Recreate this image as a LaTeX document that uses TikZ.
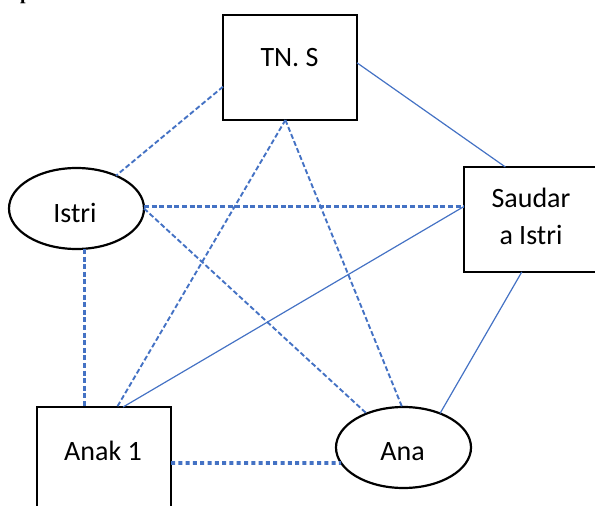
\documentclass[tikz,border=0pt]{standalone}
\usepackage{fontspec}
\setmainfont{Carlito}
\newfontfamily\headfont{Liberation Serif}
\usetikzlibrary{shapes.geometric}
\definecolor{lnblue}{HTML}{4472C4}
\tikzset{
  boxnode/.style={draw=black, line width=2.2pt, rectangle, minimum width=134pt, minimum height=105pt, inner sep=0pt, outer sep=0pt},
  ellnode/.style={draw=black, line width=2.2pt, ellipse, minimum width=135pt, minimum height=81pt, inner sep=0pt, outer sep=0pt},
  lbl/.style={anchor=base, inner sep=0pt, font=\fontsize{28}{34}\selectfont},
  dashlink/.style={draw=lnblue, line width=1.9pt, dash pattern=on 5pt off 2.6pt},
  straightdash/.style={dashlink, line width=2.5pt},
  solidlink/.style={draw=lnblue, line width=1.2pt},
  dotlink/.style={draw=lnblue, line width=3.6pt, dash pattern=on 4pt off 3.3pt}
}
\begin{document}
\begin{tikzpicture}[x=1pt,y=-1pt]
\useasboundingbox (0,0) rectangle (595,506);
\clip (0,0) rectangle (595,506);
% nodes
\node[boxnode] (tns) at (290,67.5) {};
\node[ellnode] (istri) at (76.5,208.5) {};
\node[boxnode] (sauda) at (531,219.5) {};
\node[boxnode] (anak) at (104,459.5) {};
\node[ellnode] (ana) at (403.5,447.5) {};
% labels
\node[lbl] (ltns) at (289.5,66) {TN. S};
\node[lbl] (listri) at (75,222) {Istri};
\node[lbl] (lsauda1) at (531,207) {Saudar};
\node[lbl] (lsauda2) at (531,244) {a Istri};
\node[lbl] (lanak) at (103,460) {Anak 1};
\node[lbl] (lana) at (402.5,460) {Ana};
\node[anchor=base west, inner sep=0pt, font=\headfont\bfseries\fontsize{20}{24}\selectfont] (head) at (20,0) {p};
% connectors
\draw[dashlink] (tns.196.2) -- (istri);
\draw[solidlink] (tns.4.7) -- (sauda.116.3);
\draw[dashlink] (tns.265.6) -- (anak.76.1);
\draw[dashlink] (tns.265.6) -- (ana.92);
\draw[straightdash] (sauda.169.4 -| istri.east) -- (sauda.169.4);
\draw[dashlink] (istri.east) -- (ana);
\draw[straightdash] ([xshift=8pt]istri.south) -- ([xshift=8pt]istri.south |- anak.north);
\draw[solidlink] (sauda.169.4) -- (anak.70.1);
\draw[solidlink] (sauda.260.3) -- (ana.43.6);
\draw[dotlink] (anak.357) -- (ana.194);
\end{tikzpicture}
\end{document}
